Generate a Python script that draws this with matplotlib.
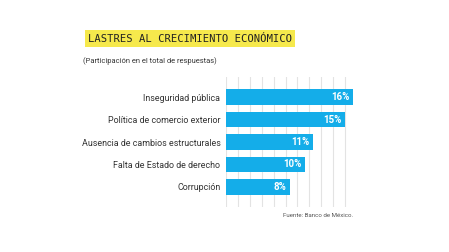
import matplotlib
matplotlib.use("Agg")
import matplotlib.pyplot as plt
import numpy as np

categories = ["Inseguridad pública", "Política de comercio exterior",
              "Ausencia de cambios estructurales", "Falta de Estado de derecho",
              "Corrupción"]
values = [16, 15, 11, 10, 8]
value_labels = ["16%", "15%", "11%", "10%", "8%"]
grid_ticks = [0, 1.5, 3, 4.5, 6, 7.5, 9, 10.5, 12, 13.5, 15]

W, H = 449, 252
fig = plt.figure(figsize=(W / 100, H / 100), dpi=100)
fig.patch.set_facecolor("white")

narrow = ["Liberation Sans Narrow", "Roboto", "DejaVu Sans"]

ax = fig.add_axes([226 / W, 45 / H, 128.6 / W, 130 / H])
y = np.arange(len(categories))
ax.barh(y, values, height=0.67, color="#14ADE9", zorder=2)
ax.set_ylim(len(categories) - 0.11, -0.89)
ax.set_xlim(0, 16.2)
for xv in grid_ticks:
    ax.axvline(xv, color="#e3e3e3", lw=0.8, zorder=1)
for s in ax.spines.values():
    s.set_visible(False)
ax.set_xticks([])
ax.set_yticks(y)
ax.set_yticklabels(categories, family=narrow, fontsize=6.4, color="#333333")
ax.tick_params(axis="y", length=0, pad=4)
for yi, v, lab in zip(y, values, value_labels):
    ax.text(v - 0.45, yi, lab, ha="right", va="center", color="white",
            fontsize=7, fontweight="bold", family=["Roboto", "DejaVu Sans"], zorder=3)

fig.text(88 / W, 1 - 38.5 / H, "LASTRES AL CRECIMIENTO ECONÓMICO",
         family="DejaVu Sans Mono", fontsize=7.6, color="#222222",
         ha="left", va="center",
         bbox=dict(facecolor="#F6E94C", edgecolor="none", pad=2.4))
fig.text(83 / W, 1 - 61 / H, "(Participación en el total de respuestas)",
         family=narrow, fontsize=5.4, color="#333333", ha="left", va="center")
fig.text(353 / W, 1 - 215.5 / H, "Fuente: Banco de México.",
         family=narrow, fontsize=4.4, color="#555555", ha="right", va="center")

fig.savefig("out.png", dpi=100, facecolor="white")
